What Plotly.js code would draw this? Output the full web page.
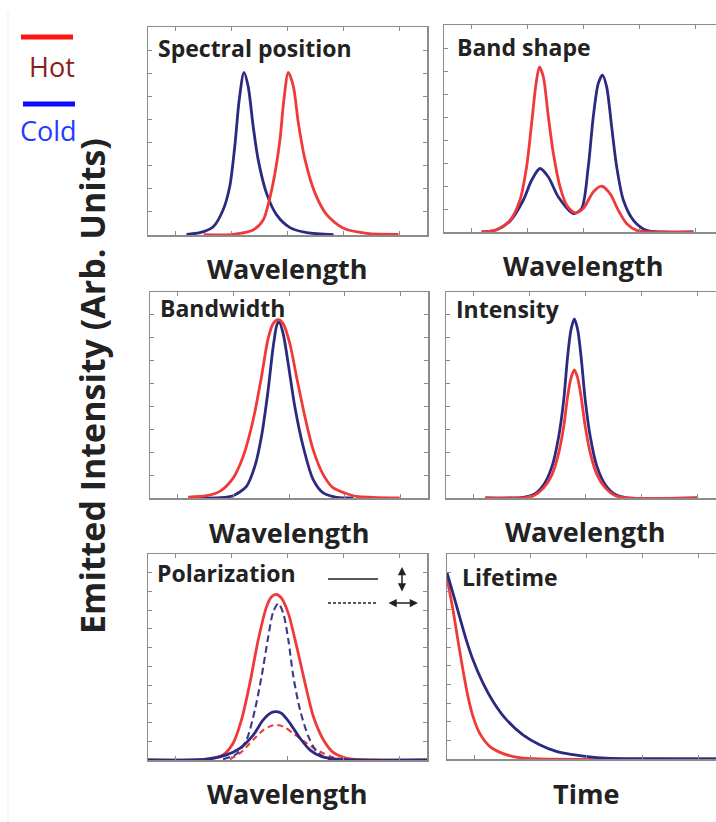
<!DOCTYPE html>
<html><head><meta charset="utf-8">
<script src="https://cdn.plot.ly/plotly-3.0.1.min.js"></script>
<style>html,body{margin:0;padding:0;background:#fff}#chart{width:716px;height:822px}</style>
</head><body><div id="chart"></div>
<script>
// ---------- data ----------
const xTickVals = [1, 3, 5, 7, 9];
const yTickValsTop = [1, 2, 3, 4, 5, 6, 7, 8];
const yTickValsBottom = [1, 2, 3, 4, 5, 6, 7, 8, 9, 10];

const panelTitles = ["Spectral position", "Band shape", "Bandwidth", "Intensity", "Polarization", "Lifetime"];
const axisTitles = ["Wavelength", "Wavelength", "Wavelength", "Wavelength", "Wavelength", "Time"];
const yTitle = "Emitted Intensity (Arb. Units)";
const legendLabels = ["Hot", "Cold"];

// Spectral position
const specColdX = [1.38, 1.86, 2.34, 2.69, 2.93, 3.11, 3.27, 3.44, 3.59, 3.77, 3.95, 4.25, 4.61, 5.09, 5.69, 6.65];
const specColdY = [0.03, 0.1, 0.36, 1.08, 2.1, 3.83, 5.85, 7.04, 6.43, 4.7, 3.25, 1.8, 0.87, 0.32, 0.1, 0.02];
const specHotX = [2.0, 3.05, 3.77, 4.13, 4.35, 4.55, 4.73, 4.87, 5.03, 5.21, 5.39, 5.63, 5.99, 6.41, 7.01, 7.84, 8.98];
const specHotY = [0.01, 0.03, 0.22, 0.65, 1.52, 2.67, 4.12, 5.85, 7.04, 6.43, 4.84, 3.25, 1.8, 0.87, 0.29, 0.07, 0.03];

// Band shape
const bandHotX = [1.35, 1.89, 2.37, 2.72, 2.96, 3.14, 3.30, 3.42, 3.56, 3.74, 3.92, 4.16, 4.40, 4.70, 4.99, 5.35, 5.65, 5.95, 6.25, 6.55, 6.91, 7.38, 8.94];
const bandHotY = [0, 0.1, 0.51, 1.38, 2.83, 4.72, 6.46, 7.18, 6.75, 5.01, 3.41, 1.96, 1.16, 0.83, 1.02, 1.74, 1.99, 1.67, 0.94, 0.36, 0.07, 0, 0];
const bandColdX = [1.35, 1.89, 2.37, 2.84, 3.14, 3.44, 3.74, 4.10, 4.64, 4.93, 5.17, 5.35, 5.53, 5.68, 5.83, 6.01, 6.19, 6.43, 6.79, 7.26, 7.86, 8.94];
const bandColdY = [0, 0.1, 0.48, 1.38, 2.25, 2.76, 2.39, 1.52, 0.80, 1.02, 2.83, 5.01, 6.46, 6.82, 6.31, 4.57, 2.83, 1.38, 0.51, 0.07, 0, 0];

// Bandwidth
const bwHotX = [1.38, 2.04, 2.51, 2.99, 3.35, 3.71, 4.01, 4.25, 4.43, 4.61, 4.79, 5.03, 5.27, 5.57, 5.87, 6.23, 6.59, 7.01, 7.43, 8.02, 8.98];
const bwHotY = [0.04, 0.1, 0.29, 0.87, 1.81, 3.41, 5.30, 6.97, 7.62, 7.79, 7.62, 6.75, 5.30, 3.56, 2.10, 1.02, 0.44, 0.22, 0.07, 0.03, 0];
const bwColdX = [1.38, 2.51, 2.99, 3.47, 3.77, 4.01, 4.25, 4.43, 4.58, 4.65, 4.79, 4.97, 5.21, 5.51, 5.87, 6.23, 6.71, 7.31];
const bwColdY = [0, 0.01, 0.1, 0.51, 1.38, 2.69, 4.72, 6.60, 7.62, 7.69, 7.18, 5.88, 3.99, 2.25, 0.80, 0.22, 0.03, 0];

// Intensity
const intX = [1.41, 2.78, 3.14, 3.50, 3.80, 4.04, 4.22, 4.36, 4.48, 4.60, 4.72, 4.84, 4.99, 5.17, 5.41, 5.71, 6.07, 6.49, 9.0];
const intColdY = [0, 0.03, 0.15, 0.58, 1.38, 2.69, 4.29, 6.19, 7.35, 7.82, 7.35, 6.19, 4.29, 2.69, 1.38, 0.58, 0.15, 0.01, 0];
const intHotY = [0, 0.01, 0.1, 0.44, 1.02, 1.97, 3.13, 4.44, 5.24, 5.60, 5.24, 4.44, 3.13, 1.97, 1.02, 0.44, 0.1, 0.01, 0];

// Polarization (solid = vertical, dashed = horizontal)
const polHotSolidX = [0, 2.10, 2.69, 3.05, 3.35, 3.65, 3.95, 4.25, 4.43, 4.59, 4.79, 5.03, 5.33, 5.63, 5.93, 6.29, 6.65, 7.13, 8.08, 10];
const polHotSolidY = [0, 0.04, 0.27, 0.89, 2.14, 4.09, 6.41, 8.19, 8.72, 8.84, 8.63, 7.83, 6.05, 4.09, 2.31, 1.07, 0.39, 0.09, 0, 0];
const polColdDashX = [2.69, 3.17, 3.53, 3.83, 4.07, 4.31, 4.49, 4.67, 4.85, 5.03, 5.21, 5.45, 5.75, 6.05, 6.41, 6.89];
const polColdDashY = [0.04, 0.32, 1.07, 2.67, 4.45, 6.58, 7.92, 8.36, 7.83, 6.41, 4.45, 2.67, 1.25, 0.44, 0.09, 0];
const polColdSolidX = [0, 2.10, 2.81, 3.29, 3.77, 4.13, 4.43, 4.59, 4.79, 5.09, 5.45, 5.81, 6.23, 6.77, 7.37, 10];
const polColdSolidY = [0, 0.04, 0.27, 0.62, 1.33, 2.14, 2.53, 2.58, 2.49, 1.96, 1.16, 0.53, 0.18, 0.04, 0, 0];
const polHotDashX = [2.93, 3.29, 3.77, 4.13, 4.43, 4.61, 4.85, 5.21, 5.69, 6.17, 6.65, 7.13];
const polHotDashY = [0.04, 0.36, 1.07, 1.60, 1.83, 1.87, 1.78, 1.42, 0.89, 0.44, 0.14, 0];

// Lifetime
const lifeColdX = [0, 0.215, 0.45, 0.69, 0.93, 1.29, 1.65, 2.13, 2.72, 3.32, 3.92, 4.52, 5.11, 5.71, 6.91, 9.7];
const lifeColdY = [10.0, 8.89, 7.64, 6.39, 5.32, 4.07, 3.09, 2.11, 1.30, 0.77, 0.41, 0.23, 0.11, 0.05, 0.02, 0];
const lifeHotX = [0, 0.215, 0.39, 0.57, 0.75, 0.93, 1.17, 1.53, 2.01, 2.60, 3.32, 9.7];
const lifeHotY = [9.70, 8.0, 6.39, 4.79, 3.36, 2.29, 1.39, 0.68, 0.29, 0.07, 0, 0];

// ---------- layout helpers ----------
const W = 716, H = 822;
const HOT = '#f03a3a', COLD = '#2c2a80';
const px = p => p / W;
const py = p => 1 - p / H;
const FONT = 'Open Sans, DejaVu Sans, sans-serif';

function line(x, y, color, ax, dash, width) {
  return {x: x, y: y, xaxis: 'x' + ax, yaxis: 'y' + ax, type: 'scatter', mode: 'lines',
    line: {color: color, width: width || 2.8, shape: 'spline', smoothing: 0.8, dash: dash || 'solid'},
    hoverinfo: 'skip', showlegend: false};
}

const traces = [
  line(specColdX, specColdY, COLD, ''),
  line(specHotX, specHotY, HOT, ''),
  line(bandColdX, bandColdY, COLD, '2'),
  line(bandHotX, bandHotY, HOT, '2'),
  line(bwColdX, bwColdY, COLD, '3'),
  line(bwHotX, bwHotY, HOT, '3'),
  line(intX, intColdY, COLD, '4'),
  line(intX, intHotY, HOT, '4'),
  line(polHotDashX, polHotDashY, HOT, '5', '6px,4px', 2.1),
  line(polColdDashX, polColdDashY, '#3a3a8c', '5', '7px,4px', 2.1),
  line(polHotSolidX, polHotSolidY, HOT, '5'),
  line(polColdSolidX, polColdSolidY, COLD, '5'),
  line(lifeHotX, lifeHotY, HOT, '6'),
  line(lifeColdX, lifeColdY, COLD, '6')
];

const axStyle = {showgrid: false, zeroline: false, showline: true, linecolor: '#8c8c8c', linewidth: 1.5,
  ticks: 'inside', ticklen: 4, tickcolor: '#8c8c8c', tickwidth: 1, showticklabels: false, fixedrange: true};

// panel boxes in pixels: [left, right, top, bottom]
const boxes = [
  [148, 427, 27, 235],
  [444, 723, 25, 232],
  [150, 428, 292, 498],
  [446, 725, 292, 498],
  [148, 427, 554, 760],
  [447, 726, 554, 759]
];

const layout = {
  width: W, height: H, margin: {l: 0, r: 0, t: 0, b: 0},
  paper_bgcolor: '#ffffff', plot_bgcolor: '#ffffff', showlegend: false,
  font: {family: FONT, color: '#222'},
  annotations: [], shapes: []
};

boxes.forEach((b, i) => {
  const n = i === 0 ? '' : String(i + 1);
  const right = Math.min(b[1], W);
  const xmax = 10 * (right - b[0]) / (b[1] - b[0]);
  const isRight = i % 2 === 1;
  const bottomRow = i >= 4;
  layout['xaxis' + n] = Object.assign({}, axStyle, {
    domain: [px(b[0]), px(right)], range: [0, xmax], anchor: 'y' + n,
    tickmode: 'array', tickvals: xTickVals, mirror: 'ticks'
  });
  layout['yaxis' + n] = Object.assign({}, axStyle, {
    domain: [py(b[3]), py(b[2])], range: [0, bottomRow ? 11 : 9], anchor: 'x' + n,
    tickmode: 'array', tickvals: bottomRow ? yTickValsBottom : yTickValsTop,
    mirror: isRight ? false : 'ticks'
  });
});

// panel titles
const titlePos = [[156, 48], [455, 47], [158, 308], [454, 309], [155, 573], [460, 577]];
panelTitles.forEach((t, i) => {
  layout.annotations.push({text: '<b>' + t + '</b>', xref: 'paper', yref: 'paper',
    x: px(titlePos[i][0]), y: py(titlePos[i][1]), xanchor: 'left', yanchor: 'middle',
    showarrow: false, font: {family: FONT, size: 23, color: '#222'}});
});

// axis titles
const axTitlePos = [[287, 268], [583, 265], [289, 532], [585, 531], [287, 793], [586, 793]];
axisTitles.forEach((t, i) => {
  layout.annotations.push({text: '<b>' + t + '</b>', xref: 'paper', yref: 'paper',
    x: px(axTitlePos[i][0]), y: py(axTitlePos[i][1]), xanchor: 'center', yanchor: 'middle',
    showarrow: false, font: {family: FONT, size: 27, color: '#222'}});
});

// y title
layout.annotations.push({text: '<b>' + yTitle + '</b>', xref: 'paper', yref: 'paper',
  x: px(92), y: py(386), xanchor: 'center', yanchor: 'middle', textangle: -90,
  showarrow: false, font: {family: FONT, size: 34, color: '#222'}});

// Hot / Cold legend
layout.shapes.push({type: 'line', xref: 'paper', yref: 'paper', x0: px(21), x1: px(73), y0: py(37), y1: py(37),
  line: {color: '#ff1414', width: 5}});
layout.shapes.push({type: 'line', xref: 'paper', yref: 'paper', x0: px(23), x1: px(75), y0: py(104), y1: py(104),
  line: {color: '#0b0bff', width: 5}});
layout.annotations.push({text: legendLabels[0], xref: 'paper', yref: 'paper', x: px(52), y: py(67),
  xanchor: 'center', yanchor: 'middle', showarrow: false, font: {family: FONT, size: 27, color: '#8b1c1c'}});
layout.annotations.push({text: legendLabels[1], xref: 'paper', yref: 'paper', x: px(48), y: py(131),
  xanchor: 'center', yanchor: 'middle', showarrow: false, font: {family: FONT, size: 27, color: '#1f3dff'}});

// faint border line at left
layout.shapes.push({type: 'line', xref: 'paper', yref: 'paper', x0: px(8), x1: px(8), y0: py(12), y1: 0,
  line: {color: '#ececec', width: 1}});

// polarization mini legend
layout.shapes.push({type: 'line', xref: 'paper', yref: 'paper', x0: px(328), x1: px(378), y0: py(579), y1: py(579),
  line: {color: '#222', width: 1.5}});
layout.shapes.push({type: 'line', xref: 'paper', yref: 'paper', x0: px(328), x1: px(378), y0: py(603), y1: py(603),
  line: {color: '#222', width: 1.5, dash: '3px,2px'}});
layout.annotations.push({text: '', xref: 'paper', yref: 'paper', x: px(402), y: py(567), ax: 0, ay: 26,
  showarrow: true, arrowside: 'end+start', arrowhead: 2, arrowsize: 1.1, arrowwidth: 1.5, arrowcolor: '#222'});
layout.annotations.push({text: '', xref: 'paper', yref: 'paper', x: px(418), y: py(603), ax: -31, ay: 0,
  showarrow: true, arrowside: 'end+start', arrowhead: 2, arrowsize: 1.1, arrowwidth: 1.5, arrowcolor: '#222'});

Plotly.newPlot('chart', traces, layout, {staticPlot: true, displayModeBar: false});
</script></body></html>
